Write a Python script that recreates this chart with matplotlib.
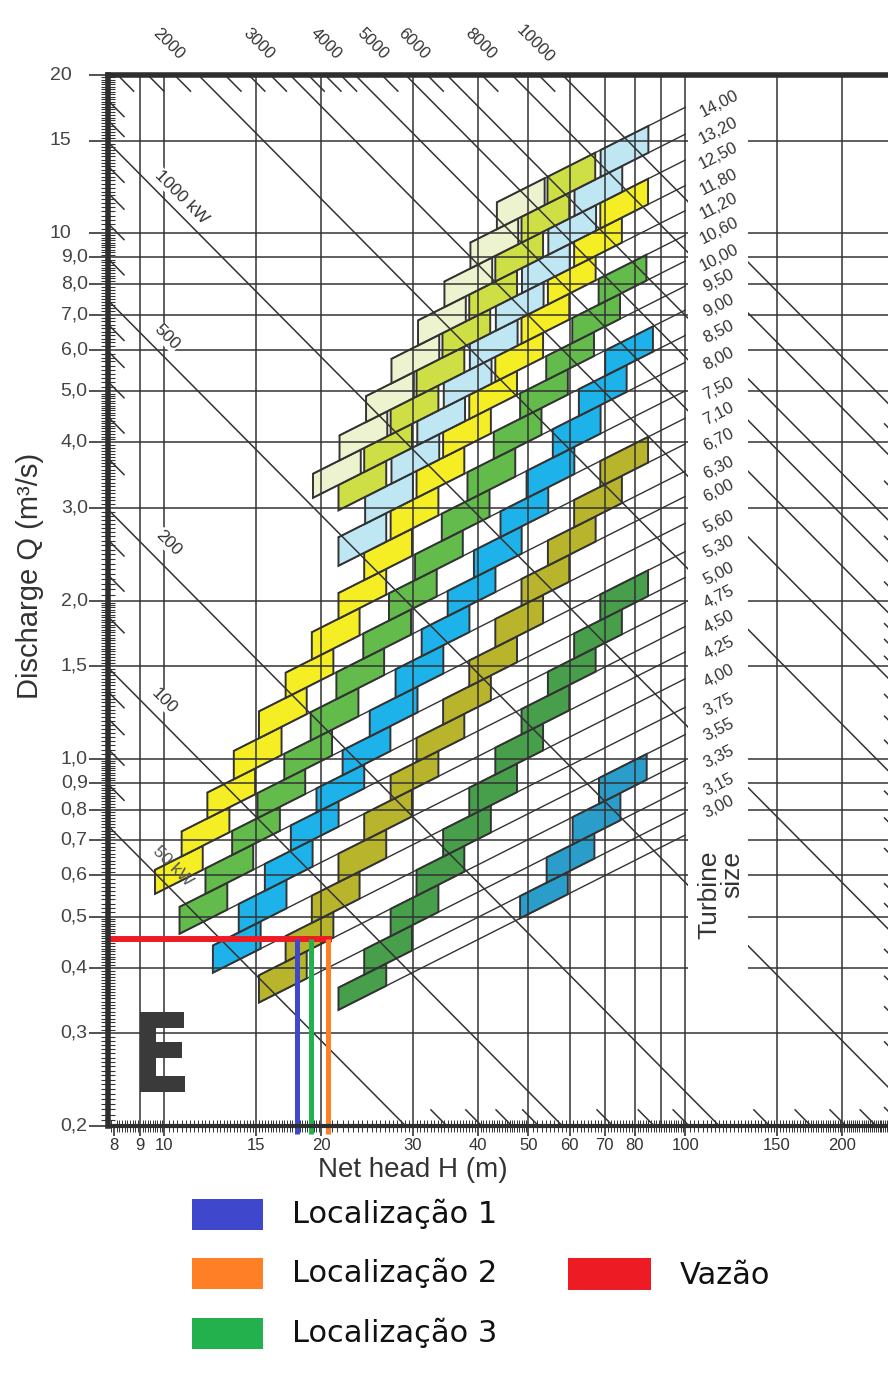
import matplotlib
matplotlib.use("Agg")
import numpy as np
import matplotlib.pyplot as plt
from matplotlib.patches import Polygon, Rectangle, PathPatch
from matplotlib.textpath import TextPath
from matplotlib.font_manager import FontProperties
from matplotlib.transforms import Affine2D
from matplotlib.ticker import FixedLocator, NullFormatter

plt.rcParams['font.family'] = ['Liberation Sans', 'DejaVu Sans']

W, HPX = 888, 1385

# ---------------- axes ----------------
H_MIN, H_MAX = 7.8, 245.0
H_RIGHT_EDGE = 259.0   # right border of the original sheet, just outside the crop
Q_MIN, Q_MAX = 0.2, 20.0
q_ticks = [0.2, 0.3, 0.4, 0.5, 0.6, 0.7, 0.8, 0.9, 1.0, 1.5, 2.0, 3.0, 4.0, 5.0,
           6.0, 7.0, 8.0, 9.0, 10, 15, 20]
q_tick_labels = ["0,2", "0,3", "0,4", "0,5", "0,6", "0,7", "0,8", "0,9", "1,0", "1,5",
                 "2,0", "3,0", "4,0", "5,0", "6,0", "7,0", "8,0", "9,0", "10", "15", "20"]
h_ticks = [8, 9, 10, 15, 20, 30, 40, 50, 60, 70, 80, 100, 150, 200]
h_tick_labels = ["8", "9", "10", "15", "20", "30", "40", "50", "60", "70", "80", "100", "150", "200"]
h_grid = [9, 10, 15, 20, 30, 40, 50, 60, 70, 80, 90, 100, 150, 200]
q_grid = [0.3, 0.4, 0.5, 0.6, 0.7, 0.8, 0.9, 1.0, 1.5, 2.0, 3.0, 4.0, 5.0, 6.0, 7.0,
          8.0, 9.0, 10, 15]

# ---------------- power lines (kW) ----------------
K_POWER = 8.6
power_lines = [50, 100, 200, 500, 1000, 2000, 3000, 4000, 5000, 6000, 8000, 10000]
power_marks = [60, 70, 80, 90, 125, 150, 175, 250, 300, 350, 400, 450, 600, 700, 800,
               900, 1100, 1200, 1400, 1600, 1800, 2250, 2500, 2750, 3250, 3500, 3750,
               4500, 5500, 7000, 9000]
inner_labels = ["1000 kW", "500", "200", "100", "50 kW"]
inner_label_h = [10.8, 10.1, 10.2, 10.0, 10.4]
inner_label_q = [11.7, 6.34, 2.57, 1.29, 0.625]
top_labels = ["2000", "3000", "4000", "5000", "6000", "8000", "10000"]
top_label_h = [10.2, 15.2, 20.4, 25.1, 30.1, 40.4, 51.6]

# ---------------- turbine sizes ----------------
sizes = [3.00, 3.15, 3.35, 3.55, 3.75, 4.00, 4.25, 4.50, 4.75, 5.00, 5.30, 5.60, 6.00,
         6.30, 6.70, 7.10, 7.50, 8.00, 8.50, 9.00, 9.50, 10.0, 10.6, 11.2, 11.8, 12.5,
         13.2, 14.0]
size_labels = ["3,00", "3,15", "3,35", "3,55", "3,75", "4,00", "4,25", "4,50", "4,75",
               "5,00", "5,30", "5,60", "6,00", "6,30", "6,70", "7,10", "7,50", "8,00",
               "8,50", "9,00", "9,50", "10,00", "10,60", "11,20", "11,80", "12,50",
               "13,20", "14,00"]
K_SIZE = 0.00835
CELL_RATIO = 1.235

# ---------------- cells: first strip + left edge head of each cell ----------------
teal_start = 0
teal_h = [48.2, 54.2, 60.8, 68.3]
darkgreen_start = 0
darkgreen_h = [21.6, 24.2, 27.2, 30.5, 34.3, 38.5, 43.2, 48.5, 54.5, 61.2, 68.7]
olive_start = 2
olive_h = [15.2, 17.1, 19.2, 21.6, 24.2, 27.2, 30.5, 34.3, 38.5, 43.2, 48.5, 54.5, 61.2, 68.7]
blue_start = 4
blue_h = [12.4, 13.9, 15.6, 17.5, 19.6, 22.0, 24.8, 27.8, 31.2, 35.0, 39.3, 44.2, 49.6,
          55.7, 62.5, 70.2]
green_start = 6
green_h = [10.7, 12.0, 13.5, 15.1, 17.0, 19.1, 21.4, 24.1, 27.0, 30.3, 34.1, 38.2, 42.9,
           48.2, 54.1, 60.7, 68.2]
yellow_start = 8
yellow_h = [9.6, 10.8, 12.1, 13.6, 15.2, 17.1, 19.2, 21.6, 24.2, 27.2, 30.5, 34.3, 38.5,
            43.2, 48.5, 54.5, 61.2, 68.7]
lightblue_start = 17
lightblue_h = [21.6, 24.3, 27.3, 30.6, 34.4, 38.6, 43.3, 48.6, 54.6, 61.3, 68.8]
lime_start = 19
lime_h = [21.6, 24.2, 27.2, 30.5, 34.2, 38.5, 43.2, 48.5, 54.4]
pale_start = 20
pale_h = [19.3, 21.7, 24.4, 27.3, 30.7, 34.5, 38.7, 43.5]

bands = [
    (teal_start, teal_h, "#2a9dca"),
    (darkgreen_start, darkgreen_h, "#479f4b"),
    (olive_start, olive_h, "#b8b52c"),
    (blue_start, blue_h, "#1db3ea"),
    (green_start, green_h, "#62bb4a"),
    (yellow_start, yellow_h, "#f6ee25"),
    (lightblue_start, lightblue_h, "#bfe6f3"),
    (lime_start, lime_h, "#cddf45"),
    (pale_start, pale_h, "#eef3cf"),
]

# ---------------- overlay marks ----------------
flow_q = 0.454
site_h = [18.0, 20.6, 19.1]
site_colors = ["#3f48cc", "#ff7f27", "#22b14c"]
site_names = ["Localização 1", "Localização 2", "Localização 3"]
flow_color = "#ed1c24"

INK = "#333333"


def edge_q(k, h):
    s = sizes
    if k == 0:
        q100 = K_SIZE * s[0] ** 3 / s[1] * 10
    elif k == len(s):
        q100 = K_SIZE * s[-1] ** 3 / s[-2] * 10
    else:
        q100 = K_SIZE * s[k - 1] * s[k] * 10
    return q100 * np.sqrt(h / 100.0)


fig = plt.figure(figsize=(W / 100, HPX / 100), dpi=100)
ax = fig.add_axes([108 / W, 1 - 1126 / HPX, (W - 108) / W, (1126 - 75) / HPX])
ax.set_xscale('log')
ax.set_yscale('log')
ax.set_xlim(H_MIN, H_MAX)
ax.set_ylim(Q_MIN, Q_MAX)

# grid
for h in h_grid:
    ax.axvline(h, color=INK, lw=1.1, zorder=3)
for q in q_grid:
    ax.axhline(q, color=INK, lw=1.1, zorder=3)

# power lines
for p in power_lines:
    hs = np.array([H_MIN, H_MAX])
    ax.plot(hs, p / (K_POWER * hs), color=INK, lw=1.1, zorder=3)

# short power marks along the borders
step = 10 ** (16 / 521)
for p in power_marks:
    q = p / (K_POWER * H_MIN)
    if Q_MIN < q < Q_MAX:
        ax.plot([H_MIN, H_MIN * step], [q, q / step], color=INK, lw=1.1, zorder=3)
    h = p / (K_POWER * Q_MAX)
    if H_MIN < h < H_MAX:
        ax.plot([h, h * step], [Q_MAX, Q_MAX / step], color=INK, lw=1.1, zorder=3)
    h = p / (K_POWER * Q_MIN)
    if H_MIN < h < H_MAX:
        ax.plot([h / step, h], [Q_MIN * step, Q_MIN], color=INK, lw=1.1, zorder=3)
    q = p / (K_POWER * H_RIGHT_EDGE)
    if Q_MIN < q < Q_MAX:
        ax.plot([H_RIGHT_EDGE / step, H_RIGHT_EDGE], [q * step, q], color=INK,
                lw=1.1, zorder=3)

# cells
line_start = {}
for start, lefts, col in bands:
    for i, hl in enumerate(lefts):
        k = start + i
        hr = hl * CELL_RATIO
        verts = [(hl, edge_q(k, hl)), (hr, edge_q(k, hr)),
                 (hr, edge_q(k + 1, hr)), (hl, edge_q(k + 1, hl))]
        ax.add_patch(Polygon(verts, closed=True, facecolor=col, edgecolor=INK,
                             lw=1.4, zorder=2))
        for kk in (k, k + 1):
            line_start[kk] = min(line_start.get(kk, 1e9), hl)

# turbine size lines
for k in range(len(sizes) + 1):
    h0 = line_start.get(k, 60.0)
    ax.plot([h0, 100], [edge_q(k, h0), edge_q(k, 100)], color=INK, lw=1.0, zorder=3)

# white column behind the turbine size labels
ax.add_patch(Rectangle((101.3, 0.346), 132.0 - 101.3, 30, facecolor="white",
                       edgecolor="none", zorder=3.6))

for lab, s in zip(size_labels, sizes):
    hq = 116.0
    qq = K_SIZE * s * s * 10 * np.sqrt(hq / 100)
    ax.text(hq, qq, lab, fontsize=12, color=INK, rotation=27, rotation_mode='anchor',
            ha='center', va='center', zorder=5)
ax.text(117.0, 0.55, "Turbine\nsize", fontsize=19, color=INK, rotation=90,
        ha='center', va='center', multialignment='right', linespacing=0.9, zorder=5)

# power labels
for lab, h, q in zip(inner_labels, inner_label_h, inner_label_q):
    bb = None if lab == "50 kW" else dict(facecolor="white", edgecolor="none", pad=0.5)
    ax.text(h, q, lab, fontsize=12.5, color="#555555" if lab == "50 kW" else INK,
            rotation=-45, ha='center', va='center', zorder=5, bbox=bb)
for lab, h in zip(top_labels, top_label_h):
    ax.text(h, 22.9, lab, fontsize=12, color=INK, rotation=-45, ha='center',
            va='center', clip_on=False)

# flow and site lines
ax.plot([H_MIN, 21.0], [flow_q, flow_q], color=flow_color, lw=4.3, zorder=8,
        solid_capstyle='butt', clip_on=False)
for h, c in zip(site_h, site_colors):
    ax.plot([h, h], [flow_q, 0.193], color=c, lw=3.6, zorder=8,
            solid_capstyle='butt', clip_on=False)

# spines and ticks
for side in ("top", "left", "bottom"):
    ax.spines[side].set_color("#2e2e2e")
    ax.spines[side].set_zorder(10)
ax.spines["top"].set_linewidth(4.0)
ax.spines["left"].set_linewidth(4.0)
ax.spines["bottom"].set_linewidth(3.0)
ax.spines["right"].set_visible(False)

q_minor = np.concatenate([np.arange(0.205, 0.5, 0.005), np.arange(0.51, 1.0, 0.01),
                          np.arange(1.02, 2.0, 0.02), np.arange(2.05, 5.0, 0.05),
                          np.arange(5.1, 10.0, 0.1), np.arange(10.2, 20.0, 0.2)])
h_minor = np.concatenate([np.arange(7.9, 10, 0.1), np.arange(10.2, 20, 0.2),
                          np.arange(20.5, 50, 0.5), np.arange(51, 100, 1),
                          np.arange(102, 245, 2)])
ax.yaxis.set_major_locator(FixedLocator(q_ticks))
ax.yaxis.set_minor_locator(FixedLocator(q_minor))
ax.yaxis.set_major_formatter(NullFormatter())
ax.yaxis.set_minor_formatter(NullFormatter())
ax.xaxis.set_major_locator(FixedLocator(h_ticks))
ax.xaxis.set_minor_locator(FixedLocator(h_minor))
ax.set_xticklabels(h_tick_labels)
ax.xaxis.set_minor_formatter(NullFormatter())
ax.tick_params(axis='y', which='major', direction='out', length=14, width=1.2,
               color=INK)
ax.tick_params(axis='y', which='minor', direction='inout', length=10, width=0.8,
               color=INK)
ax.tick_params(axis='x', which='major', direction='out', length=7, width=1.2,
               color=INK, labelsize=12, labelcolor=INK, pad=2)
ax.tick_params(axis='x', which='minor', direction='inout', length=9, width=0.7,
               color=INK)

# y tick labels aligned on the decimal comma
ytr = ax.get_yaxis_transform()
for q, lab in zip(q_ticks, q_tick_labels):
    xpos = -0.047 if "," not in lab else -0.026
    ax.text(xpos, q, lab, transform=ytr, ha='right', va='center', fontsize=14,
            color="#444444", clip_on=False)

fig.text(413 / W, 1 - 1170 / HPX, "Net head H (m)", fontsize=20, color=INK,
         ha='center', va='center')
fig.text(30 / W, 1 - 576 / HPX, "Discharge Q (m³/s)", fontsize=21, color=INK,
         rotation=90, ha='center', va='center')

# big "E" logo
tp = TextPath((0, 0), "E", size=100, prop=FontProperties(family="DejaVu Sans",
                                                         weight="bold"))
bb = tp.get_extents()
tr = (Affine2D().translate(-bb.x0, -bb.y0).scale(45 / bb.width, 80 / bb.height)
      .translate(140, HPX - 1092).scale(1 / W, 1 / HPX))
fig.add_artist(PathPatch(tr.transform_path(tp), facecolor="#3a3a3a", edgecolor="none",
                         transform=fig.transFigure, zorder=5))

# legend drawn below the chart
leg_rows = [1199, 1258, 1318]
for y0, c, name in zip(leg_rows, site_colors, site_names):
    fig.add_artist(Rectangle((192 / W, 1 - (y0 + 31) / HPX), 71 / W, 31 / HPX,
                             facecolor=c, edgecolor="none", transform=fig.transFigure))
    fig.text(292 / W, 1 - (y0 + 15) / HPX, name, fontsize=22, color="#111111",
             ha='left', va='center', family="DejaVu Sans")
fig.add_artist(Rectangle((568 / W, 1 - 1290 / HPX), 83 / W, 32 / HPX,
                         facecolor=flow_color, edgecolor="none",
                         transform=fig.transFigure))
fig.text(680 / W, 1 - 1276 / HPX, "Vazão", fontsize=22, color="#111111",
         ha='left', va='center', family="DejaVu Sans")

fig.savefig("out.png", dpi=100)
